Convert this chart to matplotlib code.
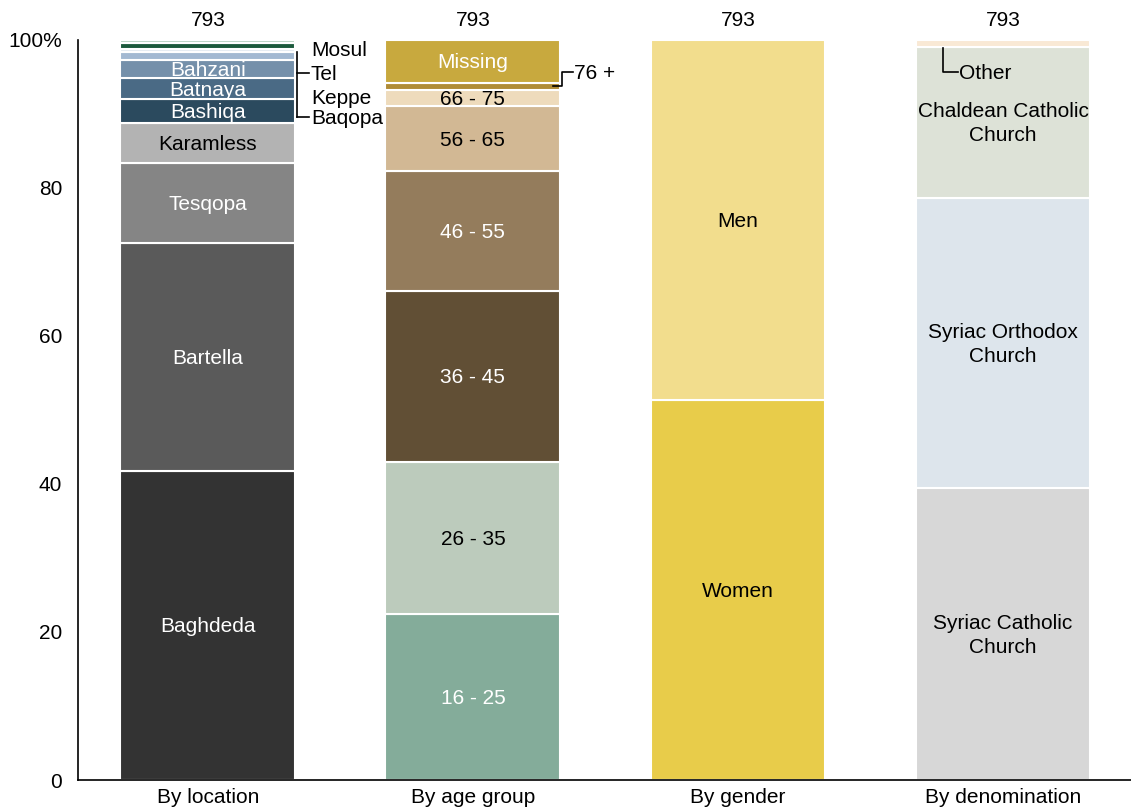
import matplotlib.pyplot as plt
import numpy as np

plt.rcParams['font.family'] = ['Liberation Sans', 'DejaVu Sans']
plt.rcParams['font.size'] = 15

groups = ['By location', 'By age group', 'By gender', 'By denomination']
totals = [793, 793, 793, 793]

loc_names = ['Baghdeda', 'Bartella', 'Tesqopa', 'Karamless', 'Bashiqa', 'Batnaya',
             'Bahzani', 'Tel', 'Baqopa', 'Mosul', 'Keppe']
loc_vals = [41.8, 30.8, 10.8, 5.3, 3.3, 2.8, 2.4, 1.2, 0.37, 0.75, 0.48]
loc_colors = ['#333333', '#5a5a5a', '#858585', '#b3b3b3', '#2b4a5e', '#4a6a85',
              '#7590aa', '#a3b9d2', '#e3ebf1', '#1c5a3c', '#b9d3c2']

age_names = ['16 - 25', '26 - 35', '36 - 45', '46 - 55', '56 - 65', '66 - 75', '76 +', 'Missing']
age_vals = [22.4, 20.6, 23.1, 16.1, 8.9, 2.1, 0.95, 5.85]
age_colors = ['#84ac9a', '#bccbbc', '#614f35', '#947c5c', '#d2b894', '#eedbbc', '#b08c36', '#c8a93e']

gen_names = ['Women', 'Men']
gen_vals = [51.35, 48.65]
gen_colors = ['#e8cc4a', '#f2dd8d']

den_names = ['Syriac Catholic\nChurch', 'Syriac Orthodox\nChurch', 'Chaldean Catholic\nChurch', 'Other']
den_vals = [39.5, 39.15, 20.4, 0.95]
den_colors = ['#d7d7d7', '#dde5ec', '#dde2d7', '#f9e9d5']

# which segments get a label inside the bar, and its colour
loc_inside = {'Baghdeda': 'white', 'Bartella': 'white', 'Tesqopa': 'white', 'Karamless': 'black',
              'Bashiqa': 'white', 'Batnaya': 'white', 'Bahzani': 'white'}
age_inside = {'16 - 25': 'white', '26 - 35': 'black', '36 - 45': 'white', '46 - 55': 'white',
              '56 - 65': 'black', '66 - 75': 'black', 'Missing': 'white'}
gen_inside = {'Women': 'black', 'Men': 'black'}
den_inside = {'Syriac Catholic\nChurch': 'black', 'Syriac Orthodox\nChurch': 'black',
              'Chaldean Catholic\nChurch': 'black'}

stacks = [(loc_names, loc_vals, loc_colors, loc_inside),
          (age_names, age_vals, age_colors, age_inside),
          (gen_names, gen_vals, gen_colors, gen_inside),
          (den_names, den_vals, den_colors, den_inside)]

fig = plt.figure(figsize=(11.31, 8.1), dpi=100)
ax = fig.add_axes([0.069, 0.037, 0.931, 0.914])

w = 0.66
for i, (names, vals, cols, inside) in enumerate(stacks):
    bottom = 0
    for n, v, c in zip(names, vals, cols):
        ax.bar(i, v, w, bottom=bottom, color=c, edgecolor='white', linewidth=1.5)
        if n in inside:
            ax.text(i, bottom + v / 2 - 0.2, n, ha='center', va='center', color=inside[n],
                    linespacing=1.35)
        bottom += v
    ax.text(i, 102.6, str(totals[i]), ha='center', va='center', clip_on=False)

# small location labels on the right of the first bar
lx = 0.389
for n, y in [('Mosul', 98.8), ('Tel', 95.5), ('Keppe', 92.3), ('Baqopa', 89.6)]:
    ax.text(lx, y - 0.2, n, ha='left', va='center')
ax.plot([0.338, 0.338], [98.3, 89.6], color='black', lw=1.2)
ax.plot([0.338, 0.382], [95.5, 95.5], color='black', lw=1.2)
ax.plot([0.338, 0.382], [89.6, 89.6], color='black', lw=1.2)

# 76 + leader
ax.plot([1.302, 1.336, 1.336, 1.377], [93.8, 93.8, 95.6, 95.6], color='black', lw=1.2)
ax.text(1.382, 95.4, '76 +', ha='left', va='center')

# Other leader
ax.plot([2.774, 2.774, 2.83], [98.9, 95.6, 95.6], color='black', lw=1.2)
ax.text(2.834, 95.4, 'Other', ha='left', va='center')

ax.set_xlim(-0.49, 3.483)
ax.set_ylim(0, 100)
ax.set_xticks(range(4))
ax.set_xticklabels(groups)
ax.set_yticks([0, 20, 40, 60, 80, 100])
ax.set_yticklabels(['0', '20', '40', '60', '80', '100%'])
ax.tick_params(axis='both', length=0)
ax.tick_params(axis='x', pad=6)
ax.tick_params(axis='y', pad=11.5)
ax.spines['top'].set_visible(False)
ax.spines['right'].set_visible(False)
ax.spines['left'].set_linewidth(1.2)
ax.spines['bottom'].set_linewidth(1.2)

fig.savefig('out.png', dpi=100)
